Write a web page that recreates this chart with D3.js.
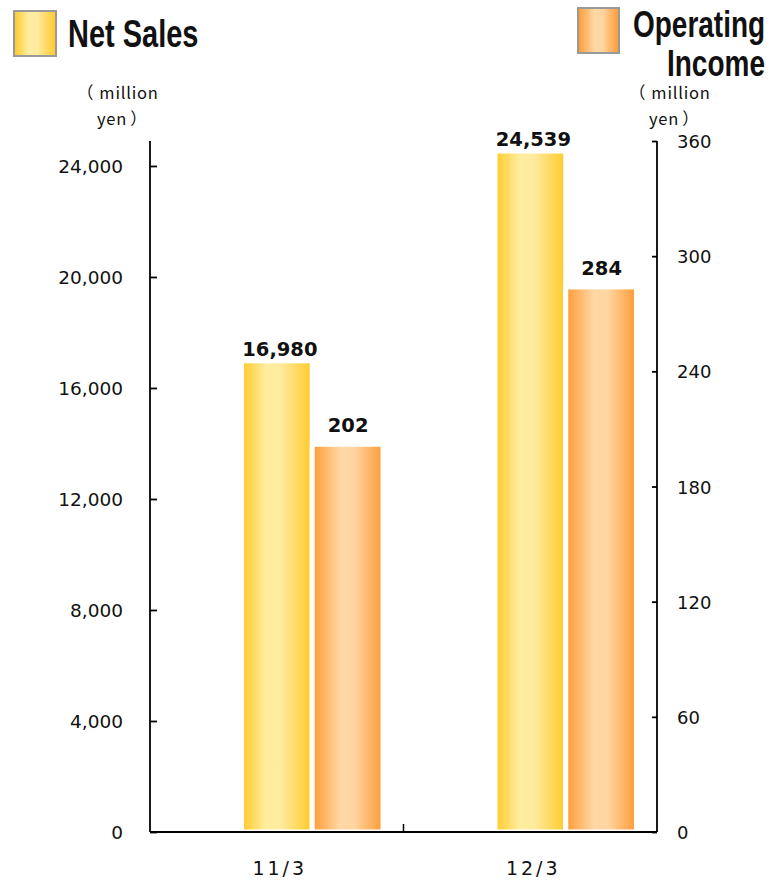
<!DOCTYPE html>
<html>
<head>
<meta charset="utf-8">
<script src="https://cdn.jsdelivr.net/npm/d3@7/dist/d3.min.js"></script>
<style>
  html, body { margin: 0; padding: 0; background: #fff; }
  svg { display: block; }
  text { fill: #111; }
</style>
</head>
<body>
<svg id="chart" width="771" height="881" font-family="'DejaVu Sans', 'Liberation Sans', Arial, sans-serif"></svg>
<script>
// Fiscal periods and reported figures (million yen)
const categories = ["11/3", "12/3"];
const seriesNames = ["Net Sales", "Operating Income"];
const netSales = [16980, 24539];
const operatingIncome = [202, 284];
const leftTicks = [0, 4000, 8000, 12000, 16000, 20000, 24000];
const rightTicks = [0, 60, 120, 180, 240, 300, 360];

const svg = d3.select("#chart");

const plot = { left: 150, right: 657, top: 141, bottom: 832 };

// Scales
const x0 = d3.scaleBand().domain(categories).range([plot.left, plot.right]).padding(0);
const x1 = d3.scaleBand().domain(seriesNames).range([91.5, 233]).padding(0);
const yLeft = d3.scaleLinear().domain([0, 24900]).range([plot.bottom, plot.top]);
const yRight = d3.scaleLinear().domain([0, 360]).range([plot.bottom, plot.top]);

// Gradients
const defs = svg.append("defs");
function hGrad(id, stops) {
  const g = defs.append("linearGradient").attr("id", id)
    .attr("x1", "0%").attr("x2", "100%").attr("y1", "0%").attr("y2", "0%");
  stops.forEach(([o, c]) => g.append("stop").attr("offset", o).attr("stop-color", c));
}
hGrad("gSales", [["0%", "#FFC926"], ["35%", "#FFEDA0"], ["55%", "#FFEBA0"], ["100%", "#FFC928"]]);
hGrad("gIncome", [["0%", "#FF9A33"], ["40%", "#FFD8A6"], ["60%", "#FFD5A0"], ["100%", "#FF9933"]]);

// Bars
const rows = categories.map((c, i) => ({ cat: c, sales: netSales[i], income: operatingIncome[i] }));

const barG = svg.append("g");
barG.selectAll("rect.sales").data(rows).join("rect")
  .attr("class", "sales")
  .attr("x", d => x0(d.cat) + x1("Net Sales"))
  .attr("width", x1.bandwidth())
  .attr("y", d => yLeft(d.sales))
  .attr("height", d => yLeft(0) - yLeft(d.sales))
  .attr("fill", "url(#gSales)")
  .attr("stroke", "#fff").attr("stroke-width", 5);

barG.selectAll("rect.income").data(rows).join("rect")
  .attr("class", "income")
  .attr("x", d => x0(d.cat) + x1("Operating Income"))
  .attr("width", x1.bandwidth())
  .attr("y", d => yRight(d.income))
  .attr("height", d => yRight(0) - yRight(d.income))
  .attr("fill", "url(#gIncome)")
  .attr("stroke", "#fff").attr("stroke-width", 5);

// Value labels
const fmt = d3.format(",");
svg.selectAll("text.vs").data(rows).join("text")
  .attr("class", "vs")
  .attr("x", d => x0(d.cat) + x1("Net Sales") + x1.bandwidth() / 2 + 3)
  .attr("y", d => yLeft(d.sales) - 5)
  .attr("text-anchor", "middle")
  .attr("font-size", 19.5).attr("font-weight", "bold")
  .text(d => fmt(d.sales));

svg.selectAll("text.vi").data(rows).join("text")
  .attr("class", "vi")
  .attr("x", d => x0(d.cat) + x1("Operating Income") + x1.bandwidth() / 2 + 0.5)
  .attr("y", d => yRight(d.income) - 12)
  .attr("text-anchor", "middle")
  .attr("font-size", 19.5).attr("font-weight", "bold")
  .text(d => fmt(d.income));

// Axes
const leftAxis = d3.axisRight(yLeft).tickValues(leftTicks).tickSize(7).tickFormat("");
const gl = svg.append("g").attr("transform", `translate(${plot.left},0)`).call(leftAxis);
gl.select(".domain").attr("d", `M0,${plot.top}V${plot.bottom}`);

const rightAxis = d3.axisLeft(yRight).tickValues(rightTicks).tickSize(5).tickFormat("");
const gr = svg.append("g").attr("transform", `translate(${plot.right},0)`).call(rightAxis);
gr.select(".domain").attr("d", `M0,${plot.top}V${plot.bottom}`);

const bottomAxis = d3.axisTop(x0).tickSize(0).tickFormat("");
const gb = svg.append("g").attr("transform", `translate(0,${plot.bottom})`).call(bottomAxis);
gb.select(".domain").attr("d", `M${plot.left},0H${plot.right}`);
// category divider tick
gb.append("line")
  .attr("x1", x0(categories[1])).attr("x2", x0(categories[1]))
  .attr("y1", 0).attr("y2", -8)
  .attr("stroke", "#000").attr("stroke-width", 1.5);

svg.selectAll(".domain, .tick line").attr("stroke", "#000").attr("stroke-width", 1.8);

// Tick labels
svg.selectAll("text.lt").data(leftTicks).join("text")
  .attr("class", "lt")
  .attr("x", 123).attr("y", d => yLeft(d) + 7)
  .attr("text-anchor", "end")
  .attr("font-size", 18.5)
  .text(d => fmt(d));

svg.selectAll("text.rt").data(rightTicks).join("text")
  .attr("class", "rt")
  .attr("x", 677).attr("y", d => yRight(d) + 7)
  .attr("text-anchor", "start")
  .attr("font-size", 18)
  .text(d => d);

svg.selectAll("text.cat").data(categories).join("text")
  .attr("class", "cat")
  .attr("x", d => x0(d) + x0.bandwidth() / 2 + 3)
  .attr("y", 875)
  .attr("text-anchor", "middle")
  .attr("font-size", 19).attr("letter-spacing", 3)
  .text(d => d);

// Unit labels: "（million" over "yen）"
function unit(x, yTop) {
  const u = svg.append("g").style("font-family", "'Noto Sans CJK JP', 'DejaVu Sans', sans-serif")
    .attr("font-size", 16.5).attr("letter-spacing", 0.8);
  const t1 = u.append("text").attr("x", x - 11).attr("y", yTop);
  t1.append("tspan").text("（");
  t1.append("tspan").attr("dx", 5).text("million");
  const t2 = u.append("text").attr("x", x + 9).attr("y", yTop + 26);
  t2.append("tspan").text("yen");
  t2.append("tspan").attr("dx", 3).text("）");
}
unit(88, 99);
unit(640, 99);

// Legend
function legendText(x, y, size, str) {
  svg.append("text")
    .attr("transform", `translate(${x},${y}) scale(1,1.32)`)
    .style("font-family", "'Liberation Sans', Arial, sans-serif")
    .attr("font-size", size).attr("font-weight", "bold")
    .text(str);
}
svg.append("rect").attr("x", 14).attr("y", 11).attr("width", 42).attr("height", 45)
  .attr("fill", "url(#gSales)").attr("stroke", "#999").attr("stroke-width", 2);
legendText(68, 47, 29, "Net Sales");

svg.append("rect").attr("x", 578).attr("y", 8).attr("width", 41).attr("height", 45)
  .attr("fill", "url(#gIncome)").attr("stroke", "#999").attr("stroke-width", 2);
legendText(633, 37, 28, "Operating");
legendText(667, 76, 28, "Income");
</script>
</body>
</html>
